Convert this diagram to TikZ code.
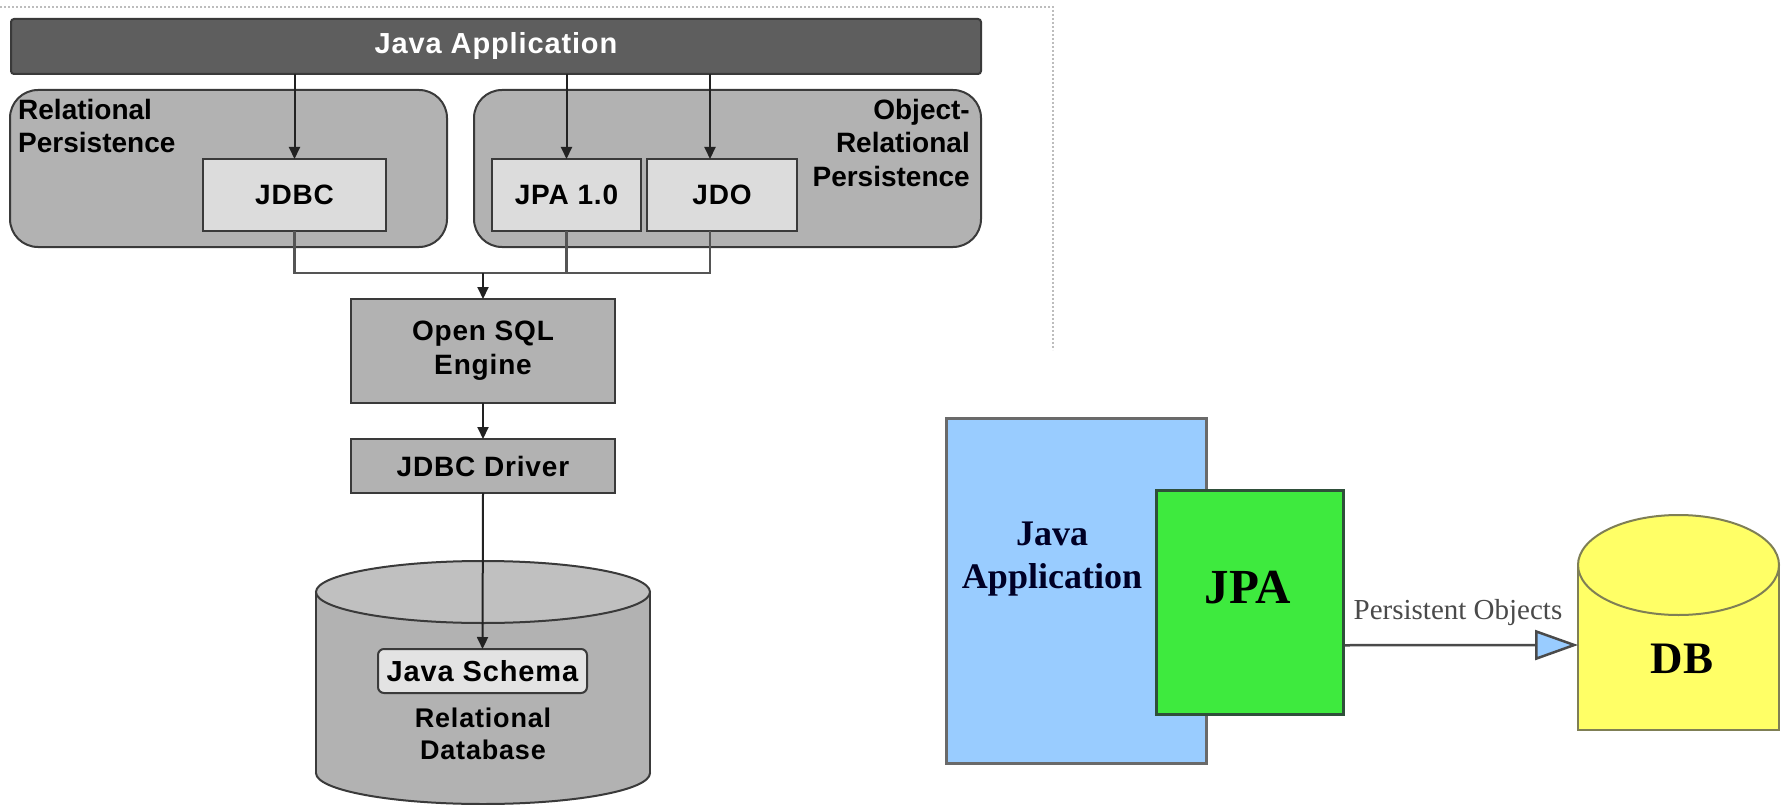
\documentclass[tikz,border=0pt]{standalone}
\usepackage{fontspec}
\setmainfont{Liberation Sans}
\newfontfamily\labfont{Liberation Sans}[LetterSpace=3]
\newfontfamily\grpfont{Liberation Sans}
\newfontfamily\seriffont{Liberation Serif}
\usetikzlibrary{arrows.meta,calc}

\definecolor{cdark}{HTML}{5E5E5E}
\definecolor{cedge}{HTML}{3A3A3A}
\definecolor{cmid}{HTML}{B2B2B2}
\definecolor{clight}{HTML}{DCDCDC}
\definecolor{ctop}{HTML}{C0C0C0}
\definecolor{cline}{HTML}{222222}
\definecolor{cwire}{HTML}{555555}
\definecolor{cframe}{HTML}{BDBDBD}
\definecolor{cblue}{HTML}{99CCFF}
\definecolor{cblueedge}{HTML}{6A6A6A}
\definecolor{cgreen}{HTML}{3EEA3E}
\definecolor{cgreenedge}{HTML}{2F4F3A}
\definecolor{cyellow}{HTML}{FFFF66}
\definecolor{cyedge}{HTML}{7F7F55}
\definecolor{cgrey}{HTML}{4A4A4A}

\tikzset{
  lab/.style={font=\labfont\bfseries\fontsize{28}{34}\selectfont, align=center},
  grplab/.style={font=\grpfont\bfseries\fontsize{28}{33.5}\selectfont, inner sep=0pt},
  graybox/.style={draw=cedge, line width=2pt, fill=cmid, inner sep=0pt,
    outer sep=0pt, anchor=north west, lab},
  lightbox/.style={graybox, fill=clight},
  groupbox/.style={draw=cedge, line width=2pt, fill=cmid, rounded corners=28pt,
    inner sep=0pt, outer sep=0pt, anchor=north west},
  arr/.style={draw=cline, line width=2pt, -{Triangle[length=12pt,width=11pt]}},
  wire/.style={draw=cwire, line width=2.5pt},
}

\begin{document}
\begin{tikzpicture}[x=1pt,y=-1pt]
  \useasboundingbox[fill=white] (0,0) rectangle (1785,805);

  % ---------- layered architecture ----------
  \draw[cframe, line width=1.5pt, dash pattern=on 2pt off 2pt] (0,7) -- (1053,7) -- (1053,350);

  \node[graybox, fill=cdark, rounded corners=3pt, minimum width=970pt, minimum height=55pt,
        text=white, font=\labfont\bfseries\fontsize{29}{34}\selectfont]
       (bar) at (11,19) {Java Application};

  \node[groupbox, minimum width=437pt, minimum height=157pt] (relgrp) at (10,90) {};
  \node[groupbox, minimum width=507pt, minimum height=157pt] (orgrp) at (474,90) {};

  \node[grplab, align=left, anchor=north west] (rellab) at (18,99)
       {Relational\\Persistence};
  \node[grplab, align=right, anchor=north east] (orlab) at (970,99)
       {Object-\\Relational\\Persistence};

  \node[lightbox, minimum width=183pt, minimum height=72pt] (jdbc) at (203,159) {JDBC};
  \node[lightbox, minimum width=149pt, minimum height=72pt] (jpa) at (492,159) {JPA 1.0};
  \node[lightbox, minimum width=150pt, minimum height=72pt] (jdo) at (647,159) {JDO};

  \node[graybox, minimum width=264pt, minimum height=104pt] (sql) at (351,299)
       {Open SQL\\Engine};
  \node[graybox, minimum width=264pt, minimum height=54pt] (drv) at (351,439)
       {JDBC Driver};

  % relational database cylinder
  \filldraw[fill=cmid, draw=cedge, line width=2pt] (483,773) circle[x radius=167, y radius=31];
  \fill[cmid] (316,592) rectangle (650,773);
  \draw[cedge, line width=2pt] (316,592) -- (316,773) (650,592) -- (650,773);
  \filldraw[fill=ctop, draw=cedge, line width=2pt] (483,592) circle[x radius=167, y radius=31];

  \node[lightbox, fill=clight!80!white, rounded corners=6pt, minimum width=209pt,
        minimum height=44pt, font=\labfont\bfseries\fontsize{29}{34}\selectfont]
       (schema) at (378,649) {Java Schema};
  \node[lab, font=\labfont\bfseries\fontsize{27}{32}\selectfont] (rdb) at (483,734)
       {Relational\\Database};

  % connectors
  \coordinate (jdox) at ([xshift=-12pt]jdo.north);
  \coordinate (merge) at (483,273);
  \draw[arr] (bar.south -| jdbc.north) -- (jdbc.north);
  \draw[arr] (bar.south -| jpa.north) -- (jpa.north);
  \draw[arr] (bar.south -| jdox) -- (jdox);
  \draw[wire] (jdbc.south) -- (jdbc.south |- merge) -- (jdox |- merge) -- (jdox |- jdo.south);
  \draw[wire] (jpa.south) -- (jpa.south |- merge);
  \draw[arr] (merge) -- (sql.north);
  \draw[arr] (sql.south) -- (drv.north);
  \draw[arr] (drv.south) -- (schema.north);

  % ---------- JPA overview ----------
  \node[draw=cblueedge, line width=2.5pt, fill=cblue, anchor=north west, inner sep=0pt,
        minimum width=260pt, minimum height=345pt] (app) at (945,417) {};
  \node[font=\seriffont\bfseries\fontsize{36}{43}\selectfont, text=black!85!blue,
        align=center] (applab) at (1052,559) {Java\\Application};

  \node[draw=cgreenedge, line width=2.5pt, fill=cgreen, anchor=north west, inner sep=0pt,
        minimum width=187pt, minimum height=224pt] (jpabox) at (1155,489) {};
  \node[font=\seriffont\bfseries\fontsize{49}{55}\selectfont] (jpalab) at (1248,588) {JPA};

  % database cylinder
  \filldraw[fill=cyellow, draw=cyedge, line width=2.5pt] (1578,565) -- (1578,730) -- (1779,730) -- (1779,565);
  \filldraw[fill=cyellow, draw=cyedge, line width=2pt] (1678.5,565) circle[x radius=100.5, y radius=50];
  \node[font=\seriffont\bfseries\fontsize{45}{50}\selectfont] (dblab) at (1682,659) {DB};

  \coordinate (dbin) at (1578,645);
  \draw[cgrey, line width=2.5pt, -{Triangle[length=43pt,width=30pt,fill=cblue]}]
       ([yshift=-43pt]jpabox.east) -- (dbin);
  \node[font=\seriffont\fontsize{29}{32}\selectfont, text=cgrey] (pobj) at (1458,613)
       {Persistent Objects};
\end{tikzpicture}
\end{document}
